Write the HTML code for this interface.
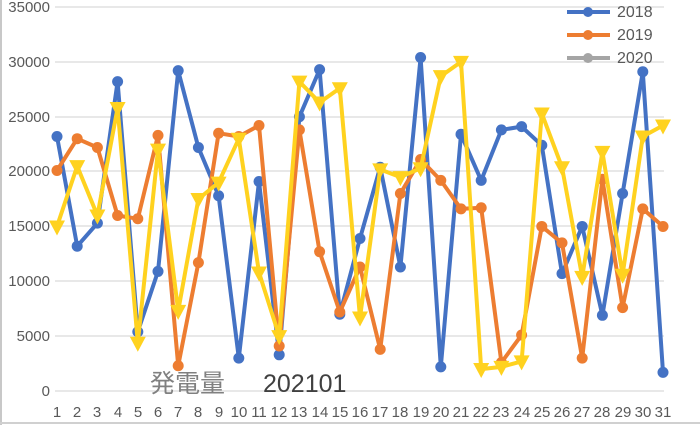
<!DOCTYPE html>
<html><head><meta charset="utf-8"><style>
html,body{margin:0;padding:0;background:#fff;}
svg{display:block;font-family:"Liberation Sans","Noto Sans CJK JP",sans-serif;}
</style></head><body>
<svg id="c" width="700" height="425" viewBox="0 0 700 425">
<rect x="0" y="0" width="700" height="425" fill="#fff"/>
<line x1="1" y1="0" x2="1" y2="425" stroke="#c8c8c8" stroke-width="2"/>
<line x1="0" y1="423" x2="700" y2="423" stroke="#d0d0d0" stroke-width="2"/>
<g stroke="#d9d9d9" stroke-width="1.3">
<line x1="55" y1="7" x2="664" y2="7"/><line x1="55" y1="62" x2="664" y2="62"/>
<line x1="55" y1="117" x2="664" y2="117"/><line x1="55" y1="171" x2="664" y2="171"/>
<line x1="55" y1="226" x2="664" y2="226"/><line x1="55" y1="281" x2="664" y2="281"/>
<line x1="55" y1="336" x2="664" y2="336"/><line x1="55" y1="391" x2="664" y2="391"/>
</g>
<g font-size="15" fill="#595959" text-anchor="end">
<text x="50" y="12">35000</text><text x="50" y="67">30000</text><text x="50" y="122">25000</text>
<text x="50" y="176">20000</text><text x="50" y="231">15000</text><text x="50" y="286">10000</text>
<text x="50" y="341">5000</text><text x="50" y="396">0</text>
</g>
<g id="xl" font-size="15" fill="#595959" text-anchor="middle">
<text x="57" y="417">1</text><text x="77" y="417">2</text><text x="97" y="417">3</text><text x="118" y="417">4</text><text x="138" y="417">5</text><text x="158" y="417">6</text><text x="178" y="417">7</text><text x="198" y="417">8</text><text x="219" y="417">9</text><text x="239" y="417">10</text><text x="259" y="417">11</text><text x="279" y="417">12</text><text x="299" y="417">13</text><text x="320" y="417">14</text><text x="340" y="417">15</text><text x="360" y="417">16</text><text x="380" y="417">17</text><text x="400" y="417">18</text><text x="421" y="417">19</text><text x="441" y="417">20</text><text x="461" y="417">21</text><text x="481" y="417">22</text><text x="501" y="417">23</text><text x="522" y="417">24</text><text x="542" y="417">25</text><text x="562" y="417">26</text><text x="582" y="417">27</text><text x="602" y="417">28</text><text x="623" y="417">29</text><text x="643" y="417">30</text><text x="663" y="417">31</text>
</g>
<g id="series"></g>
<text x="150" y="392" font-size="25" fill="#808080">発電量</text>
<text x="263" y="392" font-size="25" fill="#404040">202101</text>
<g stroke-width="4">
<line x1="567" y1="12" x2="610" y2="12" stroke="#4472C4"/><circle cx="588" cy="12" r="5" fill="#4472C4"/>
<line x1="567" y1="35" x2="610" y2="35" stroke="#ED7D31"/><circle cx="588" cy="35" r="5" fill="#ED7D31"/>
<line x1="567" y1="58" x2="610" y2="58" stroke="#A5A5A5"/><circle cx="588" cy="58" r="5" fill="#A5A5A5"/>
</g>
<g font-size="16" fill="#595959">
<text x="617" y="17">2018</text><text x="617" y="40">2019</text><text x="617" y="63">2020</text>
</g>
</svg>
<script>
var a=[23200,13200,15300,28200,5400,10900,29200,22200,17800,3000,19100,3300,25000,29300,7000,13900,20400,11300,30400,2200,23400,19200,23800,24100,22400,10700,15000,6900,18000,29100,1700];
var b=[20100,23000,22200,16000,15700,23300,2300,11700,23500,23200,24200,4100,23800,12700,7200,11300,3800,18000,21100,19200,16600,16700,2600,5100,15000,13500,3000,19300,7600,16600,15000];
var c=[15000,20500,16000,25800,4400,22000,7300,17500,19000,23000,10800,5000,28200,26300,27600,6700,20200,19500,20300,28700,30000,2000,2200,2700,25300,20400,10400,21800,10600,23200,24200];
var g=document.getElementById('series'),h='';
function X(i){return 57+i*20.2}function Y(v){return 391-v*0.01097}
function line(d,col){var p=d.map(function(v,i){return X(i).toFixed(1)+','+Y(v).toFixed(1)}).join(' ');
h+='<polyline points="'+p+'" fill="none" stroke="'+col+'" stroke-width="4" stroke-linejoin="round"/>';}
line(a,'#4472C4');a.forEach(function(v,i){h+='<circle cx="'+X(i)+'" cy="'+Y(v)+'" r="5.5" fill="#4472C4"/>'});
line(b,'#ED7D31');b.forEach(function(v,i){h+='<circle cx="'+X(i)+'" cy="'+Y(v)+'" r="5.5" fill="#ED7D31"/>'});
line(c,'#FFD21F');c.forEach(function(v,i){var x=X(i),y=Y(v);h+='<polygon points="'+(x-8)+','+(y-6)+' '+(x+8)+','+(y-6)+' '+x+','+(y+9)+'" fill="#FFD21F"/>'});
g.innerHTML=h;
</script>
</body></html>
